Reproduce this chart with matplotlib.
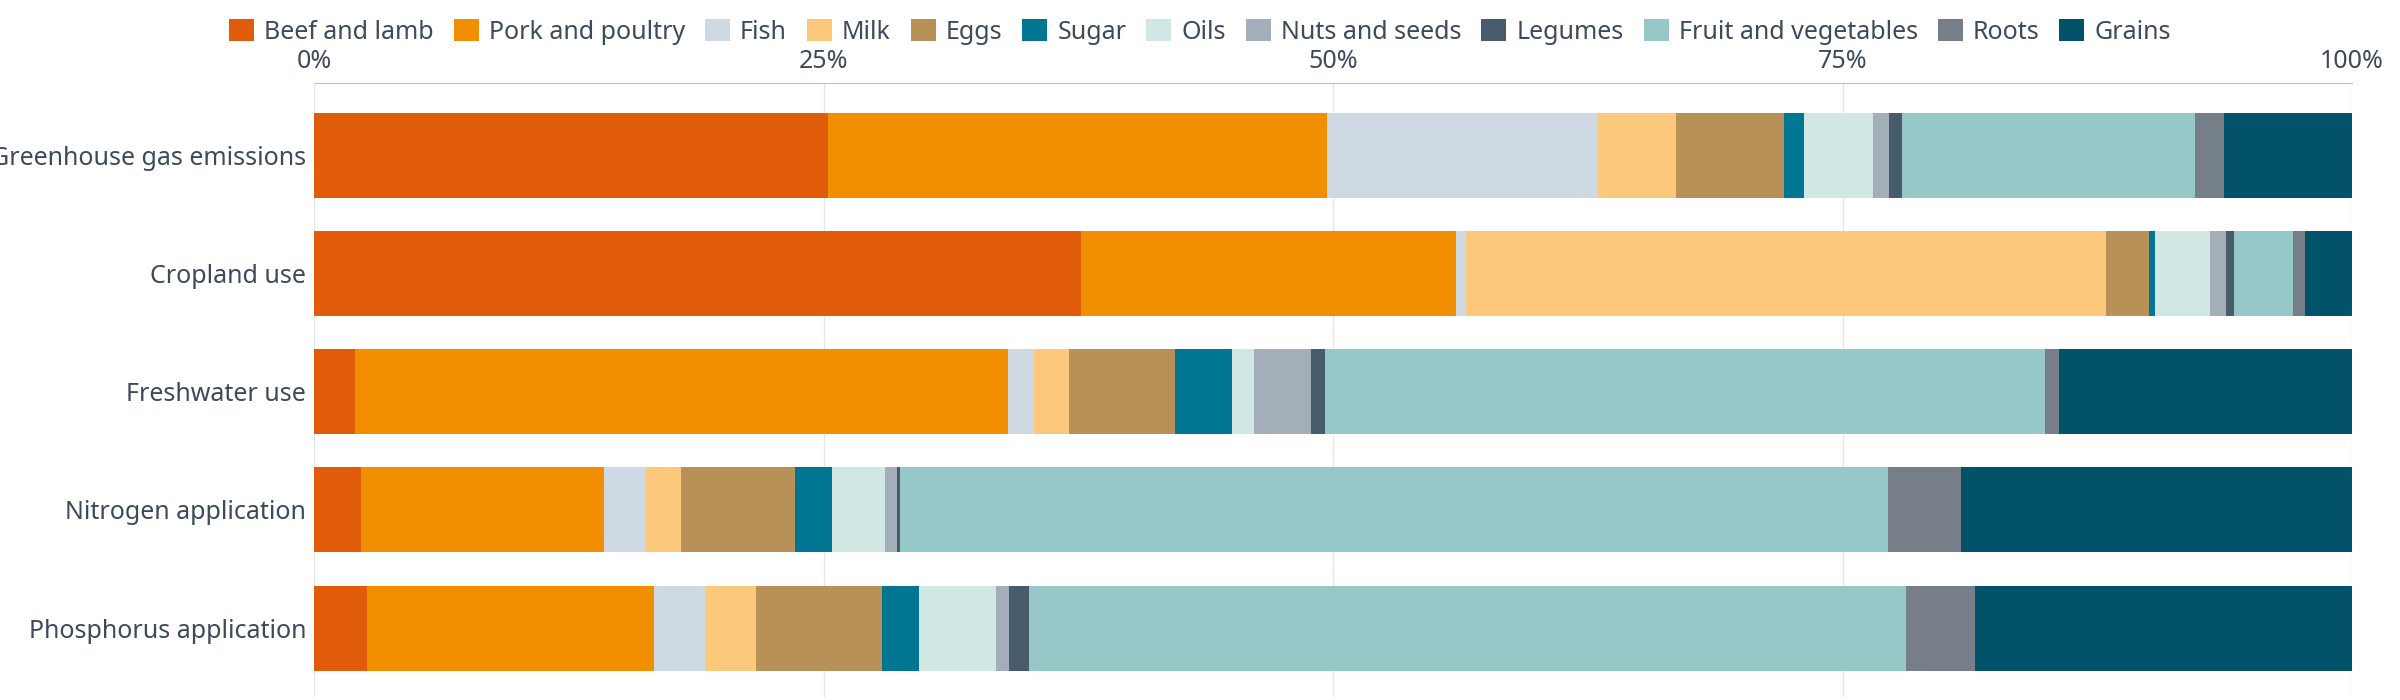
import numpy as np
import matplotlib.pyplot as plt

# data (percent shares)
impacts = ["Greenhouse gas emissions", "Cropland use", "Freshwater use",
           "Nitrogen application", "Phosphorus application"]
foods = ["Beef and lamb", "Pork and poultry", "Fish", "Milk", "Eggs", "Sugar",
         "Oils", "Nuts and seeds", "Legumes", "Fruit and vegetables", "Roots", "Grains"]
colors = ["#e05c0a", "#f28f00", "#cfd9e4", "#fcc97c", "#b89158", "#007693",
          "#d1e7e4", "#a4aeb9", "#475b6c", "#95c8c7", "#767e87", "#02526a"]

ghg = [25.2, 24.5, 13.3, 3.8, 5.3, 1.0, 3.4, 0.8, 0.6, 14.4, 1.4, 6.3]
cropland = [37.6, 18.4, 0.5, 31.4, 2.1, 0.3, 2.7, 0.75, 0.4, 2.9, 0.6, 2.3]
freshwater = [2.0, 32.1, 1.3, 1.7, 5.2, 2.8, 1.1, 2.8, 0.7, 35.4, 0.7, 14.4]
nitrogen = [2.3, 11.9, 2.1, 1.7, 5.6, 1.8, 2.6, 0.6, 0.15, 48.5, 3.6, 19.2]
phosphorus = [2.6, 14.1, 2.5, 2.5, 6.2, 1.8, 3.8, 0.6, 1.0, 43.1, 3.4, 18.5]

vals = np.array([ghg, cropland, freshwater, nitrogen, phosphorus], dtype=float)
vals = vals / vals.sum(axis=1, keepdims=True) * 100

plt.rcParams['font.family'] = ['Noto Sans', 'DejaVu Sans']
txt = "#3d4a5c"

fig = plt.figure(figsize=(24, 7), dpi=100)
ax = fig.add_axes([0.131, 0.005, 0.849, 0.877])

y = np.arange(len(impacts))
left = np.zeros(len(impacts))
for i, f in enumerate(foods):
    ax.barh(y, vals[:, i], left=left, height=0.72, color=colors[i], label=f, zorder=3)
    left += vals[:, i]

ax.set_xlim(0, 100)
ax.set_ylim(len(impacts) - 0.42, -0.62)
ax.set_yticks(y)
ax.set_yticklabels(impacts, fontsize=18, color=txt)
ax.set_xticks([0, 25, 50, 75, 100])
ax.set_xticklabels(["0%", "25%", "50%", "75%", "100%"], fontsize=18, color=txt)
ax.xaxis.tick_top()
ax.tick_params(axis='both', length=0, pad=6)
ax.grid(axis='x', color="#e6e6e6", linewidth=1, zorder=0)
for s in ["right", "bottom", "left"]:
    ax.spines[s].set_visible(False)
ax.spines["top"].set_color("#b8c2cc")

fig.legend(loc="upper center", bbox_to_anchor=(0.5, 1.005), ncol=12, frameon=False,
           fontsize=18, handlelength=1.0, handleheight=1.0, handletextpad=0.4,
           columnspacing=0.8, labelcolor=txt)

fig.savefig("out.png", dpi=100)
